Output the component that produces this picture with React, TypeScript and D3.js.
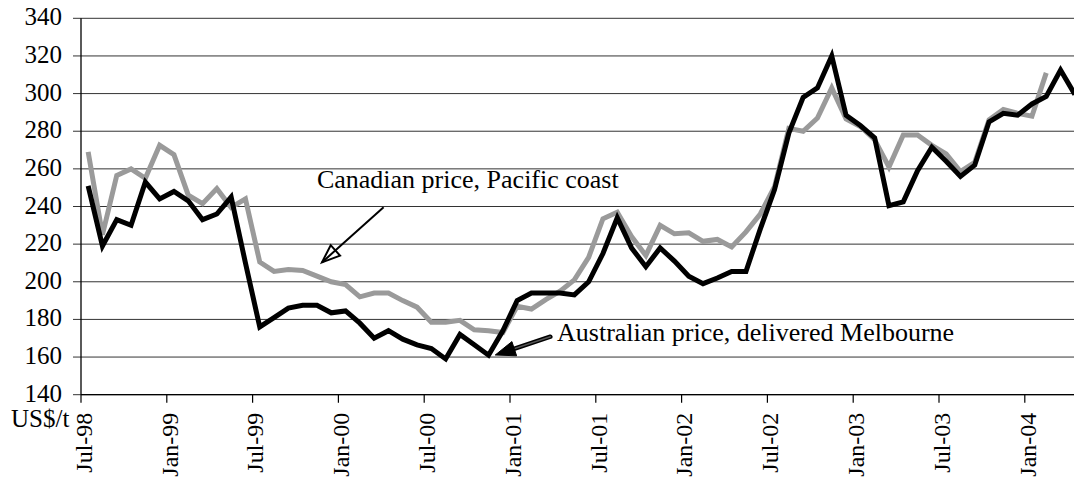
import * as React from "react";
import * as d3 from "d3";

// monthly categories, Jul-98 .. Apr-04
const months = d3.timeMonths(new Date(1998, 6, 1), new Date(2004, 4, 1));

// Australian price, delivered Melbourne (US$/t)
const australian = [
  251, 219, 233, 230, 253, 244, 248, 243, 233, 236, 245, 210,
  176, 181, 186, 187.5, 187.5, 183.5, 184.5, 178, 170, 174, 169.5, 166.5,
  164.5, 159, 172, 166.5, 161, 174, 190, 194, 194, 194, 193, 200,
  215, 234, 218, 208, 218, 211, 203, 199, 202, 205.5, 205.5, 228,
  249, 279, 298, 303, 320, 288.5, 283, 276.5, 240.5, 242.5, 259, 271.5,
  264, 256, 262, 285, 289.5, 288.5, 294.5, 298.5, 312.5, 299.5,
];

// Canadian price, Pacific coast (US$/t)
const canadian = [
  269, 225, 256.5, 260, 255, 272.5, 267.5, 246, 241.5, 249.5, 239.5, 244,
  210.5, 205.5, 206.5, 206, 203, 200, 198.5, 192, 194, 194, 190, 186.5,
  178.5, 178.5, 179.5, 174.5, 174, 173, 187, 185.5, 190.5, 195, 201, 213,
  233.5, 237, 224, 214, 230, 225.5, 226, 221.5, 222.5, 218.5, 226.5, 236,
  250.5, 281.5, 280, 287, 303, 286.5, 282.5, 275.5, 261, 278, 278, 272.5,
  268, 258.5, 263.5, 286, 291.5, 289.5, 288, 311,
];

const yTicks = [140, 160, 180, 200, 220, 240, 260, 280, 300, 320, 340];

// annotations: [month index, value]
const canadianLabel = { text: "Canadian price, Pacific coast", at: [16.0, 249.7], from: [20.66, 239.6], to: [16.35, 210.3] };
const australianLabel = { text: "Australian price, delivered Melbourne", at: [32.79, 168.5], from: [32.32, 170.8], to: [28.47, 161.1] };

const width = 1074;
const height = 481;
const margin = { left: 81, top: 18.3, bottom: 86.3 };
const step = 14.3;

function arrowHead(x1: number, y1: number, x2: number, y2: number, len: number, half: number) {
  const dx = x1 - x2;
  const dy = y1 - y2;
  const d = Math.hypot(dx, dy);
  const ux = dx / d;
  const uy = dy / d;
  const bx = x2 + ux * len;
  const by = y2 + uy * len;
  return `${x2},${y2} ${bx - uy * half},${by + ux * half} ${bx + uy * half},${by - ux * half}`;
}

export default function App() {
  const xScale = d3
    .scaleBand<number>()
    .domain(d3.range(months.length))
    .range([margin.left, margin.left + months.length * step])
    .paddingInner(0)
    .paddingOuter(0);

  const yScale = d3
    .scaleLinear()
    .domain([140, 340])
    .range([height - margin.bottom, margin.top]);

  const px = (i: number) => margin.left + (i + 0.5) * xScale.step();

  const line = d3
    .line<number>()
    .x((_, i) => (xScale(i) ?? 0) + xScale.bandwidth() / 2)
    .y((d) => yScale(d));

  const fmt = d3.timeFormat("%b-%y");
  const tickIdx = months.map((m, i) => i).filter((i) => months[i].getMonth() % 6 === 0);
  const x0 = margin.left;
  const xEnd = margin.left + months.length * step;
  const yBase = yScale(140);
  const fontStyle = { fontFamily: '"Liberation Serif", "Times New Roman", Times, "DejaVu Serif", serif' };

  const c1 = [px(canadianLabel.from[0]), yScale(canadianLabel.from[1])];
  const c2 = [px(canadianLabel.to[0]), yScale(canadianLabel.to[1])];
  const a1 = [px(australianLabel.from[0]), yScale(australianLabel.from[1])];
  const a2 = [px(australianLabel.to[0]), yScale(australianLabel.to[1])];

  return (
    <svg
      width={width}
      height={height}
      style={{ position: "absolute", left: 0, top: 0, background: "#fff" }}
    >
      {/* gridlines + y ticks */}
      <g style={fontStyle} fontSize={25} textAnchor="end">
        {yTicks.map((t) => (
          <g key={t} transform={`translate(0, ${yScale(t)})`}>
            <line x1={x0 - 8} x2={xEnd} stroke="#333" strokeWidth={1} />
            <text x={62} dy="0.28em">
              {t}
            </text>
          </g>
        ))}
      </g>
      <line x1={x0} x2={x0} y1={margin.top} y2={yBase} stroke="#000" strokeWidth={1.3} />
      <line x1={x0} x2={xEnd} y1={yBase} y2={yBase} stroke="#000" strokeWidth={1.3} />

      {/* x ticks */}
      <g style={fontStyle} fontSize={24} textAnchor="end">
        {tickIdx.map((i) => {
          const tx = xScale(i) ?? 0;
          return (
            <g key={i}>
              <line x1={tx} x2={tx} y1={yBase} y2={yBase + 8} stroke="#000" strokeWidth={1.2} />
              <text transform={`translate(${tx}, ${yBase + 18}) rotate(-90)`} dy="0.45em">
                {fmt(months[i])}
              </text>
            </g>
          );
        })}
      </g>
      <text x={11} y={yBase + 32} style={fontStyle} fontSize={25}>
        US$/t
      </text>

      {/* series */}
      <path d={line(canadian) ?? ""} fill="none" stroke="#9a9a9a" strokeWidth={5} />
      <path d={line(australian) ?? ""} fill="none" stroke="#000" strokeWidth={5} />

      {/* annotations */}
      <g style={fontStyle} fontSize={26}>
        <text x={px(canadianLabel.at[0])} y={yScale(canadianLabel.at[1])}>
          {canadianLabel.text}
        </text>
        <text x={px(australianLabel.at[0])} y={yScale(australianLabel.at[1])}>
          {australianLabel.text}
        </text>
      </g>
      <line x1={c1[0]} y1={c1[1]} x2={c2[0]} y2={c2[1]} stroke="#000" strokeWidth={2} />
      <polygon
        points={arrowHead(c1[0], c1[1], c2[0], c2[1], 18, 7)}
        fill="none"
        stroke="#000"
        strokeWidth={2}
      />
      <line
        x1={a1[0]}
        y1={a1[1]}
        x2={a2[0] + 10}
        y2={a2[1] - 3.3}
        stroke="#000"
        strokeWidth={4.5}
        strokeLinecap="round"
      />
      <line
        x1={a1[0]}
        y1={a1[1]}
        x2={a2[0] + 10}
        y2={a2[1] - 3.3}
        stroke="#555"
        strokeWidth={1.5}
        strokeLinecap="round"
      />
      <polygon points={arrowHead(a1[0], a1[1], a2[0], a2[1], 20, 7.5)} fill="#000" stroke="#000" strokeWidth={1} />
    </svg>
  );
}
